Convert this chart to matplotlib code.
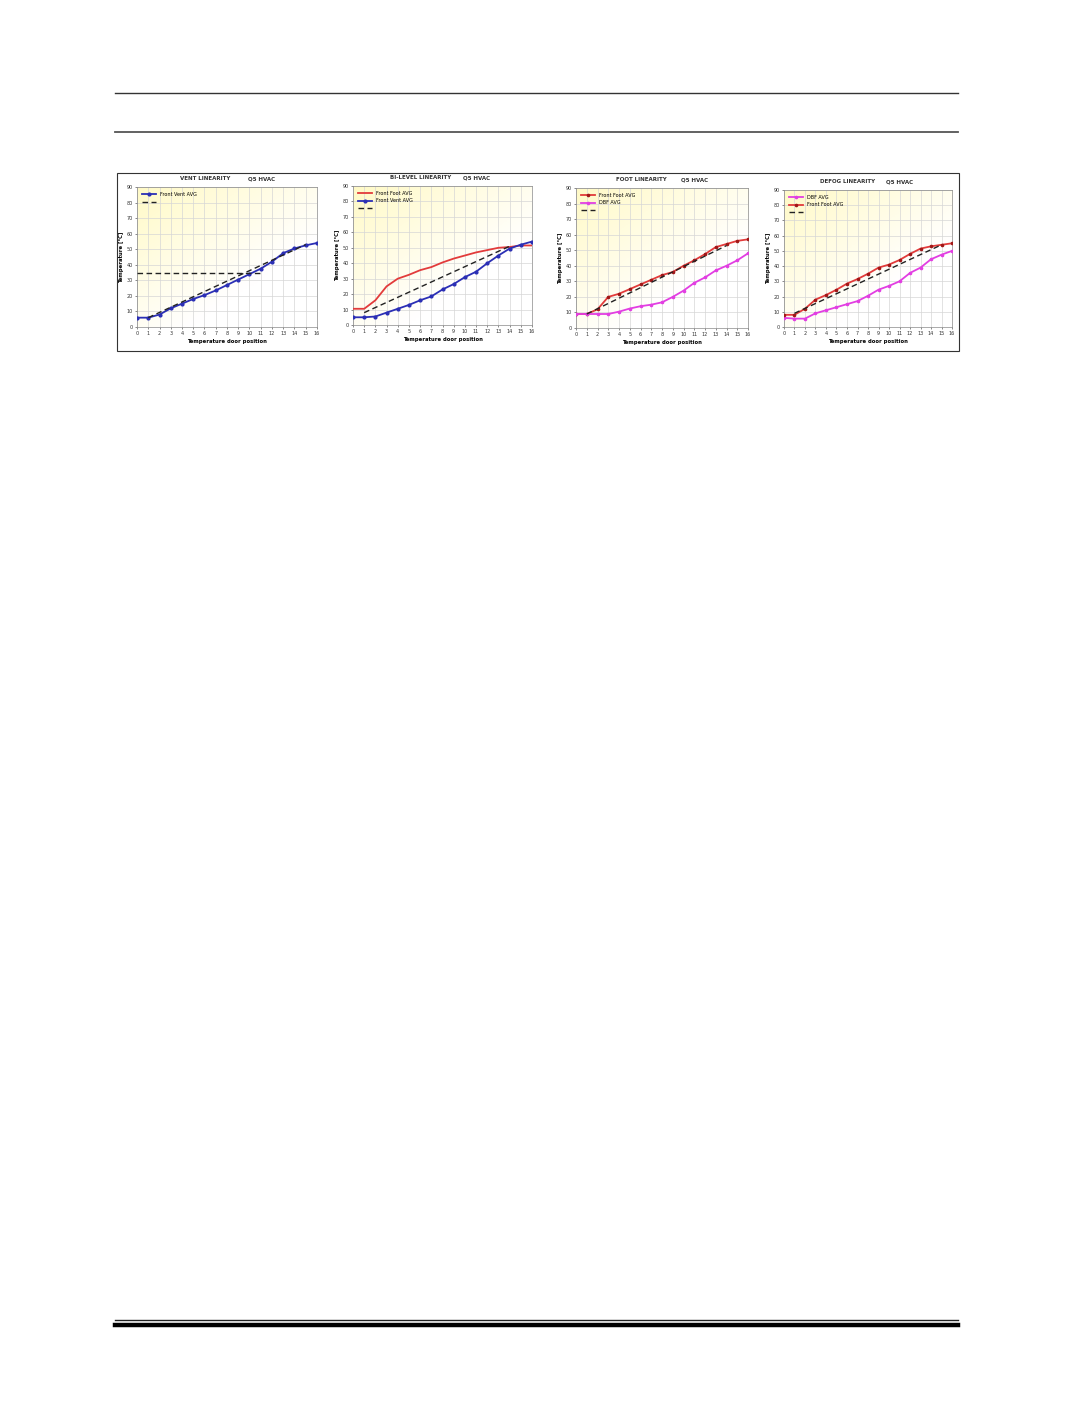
import numpy as np
import matplotlib.pyplot as plt
from matplotlib.lines import Line2D
from matplotlib.patches import Rectangle

W, H = 1075, 1422

pos = list(range(17))

vent_front = [6, 6, 8, 12, 15, 18, 20.5, 23.5, 27, 30.5, 34, 37.5, 42, 47.5, 50.5, 52.5, 54]

bilevel_foot = [10.5, 10.5, 16, 25, 30, 32.5, 35.5, 37.5, 40.5, 43, 45, 47, 48.5, 50, 50.5, 51.5, 51.5]
bilevel_vent = [5, 5, 5.5, 8, 10.5, 13, 16, 18.5, 23, 26.5, 31, 34.5, 40, 45, 49.5, 52, 54]

foot_foot = [9, 9, 12, 20, 22, 25, 28, 31, 34, 36, 40, 43.5, 47.5, 52, 54, 56, 57]
foot_dbf = [9, 9, 9, 9, 10.5, 12.5, 14, 15, 16.5, 20, 24, 29, 32.5, 37, 40, 43.5, 48]

defog_dbf = [6, 5.5, 5.5, 9, 11, 13, 15, 17, 20.5, 24.5, 27, 30, 35.5, 39, 44.5, 47.5, 50]
defog_foot = [8, 8, 12, 18, 21, 24.5, 28.5, 31.5, 35, 39, 41, 44, 48, 51.5, 53, 54, 55]

# target dashed lines (start x, end x), (start y, end y)
target_vent = ([1, 15], [6, 53])
target_bilevel = ([1, 14], [8, 51])
target_foot = ([1, 14], [9, 53])
target_defog = ([1, 15], [9, 54])
vent_ref_x = [0, 11]
vent_ref_y = [35, 35]

titles = ["VENT LINEARITY", "BI-LEVEL LINEARITY", "FOOT LINEARITY", "DEFOG LINEARITY"]

BLUE = "#2b2fb5"
RED = "#e23b3b"
MAG = "#e23ee2"

fig = plt.figure(figsize=(W / 100, H / 100), dpi=100)


def px_axes(x0, y0, x1, y1):
    return fig.add_axes([x0 / W, 1 - y1 / H, (x1 - x0) / W, (y1 - y0) / H])


# page rules
for y, lw, c in [(93, 1.0, "#333333"), (132, 1.3, "#555555")]:
    fig.add_artist(Line2D([115 / W, 958 / W], [1 - y / H, 1 - y / H], color=c, lw=lw))
fig.add_artist(Line2D([115 / W, 958 / W], [1 - 1320 / H, 1 - 1320 / H], color="#222222", lw=1.0))
fig.add_artist(Line2D([115 / W, 958 / W], [1 - 1325 / H, 1 - 1325 / H], color="black", lw=3.2))

# frame around the charts
fig.add_artist(Rectangle((117 / W, 1 - 351 / H), (959 - 117) / W, (351 - 173) / H,
                         fill=False, ec="#333333", lw=0.8, transform=fig.transFigure))

boxes = [(137, 187, 317, 327), (353, 186, 532, 325), (576, 188, 748, 328), (784, 190, 952, 327)]

# pale yellow in the top-left corner fading to white
grad = np.zeros((50, 50, 4))
gx, gy = np.meshgrid(np.linspace(0, 1, 50), np.linspace(0, 1, 50))
t = np.clip((gx * 0.7 + gy * 0.8), 0, 1)
grad[..., 0] = 1.0
grad[..., 1] = 0.98 + 0.02 * t
grad[..., 2] = 0.78 + 0.22 * t
grad[..., 3] = 1.0

axes = []
for b in boxes:
    ax = px_axes(*b)
    ax.imshow(grad, extent=[0, 16, 0, 90], origin="upper", aspect="auto", zorder=0)
    ax.set_xlim(0, 16)
    ax.set_ylim(0, 90)
    ax.set_xticks(range(17))
    ax.set_yticks(range(0, 91, 10))
    ax.grid(True, color="#d6d6d6", lw=0.5, zorder=1)
    ax.tick_params(labelsize=3.5, length=1.5, width=0.4, pad=1.5, colors="#333333")
    for s in ax.spines.values():
        s.set_linewidth(0.5)
        s.set_color("#888888")
    ax.set_xlabel("Temperature door position", fontsize=3.8, fontweight="bold", labelpad=2)
    ax.set_ylabel("Temperature [°C]", fontsize=3.8, fontweight="bold", labelpad=2)
    axes.append(ax)

for ax, title in zip(axes, titles):
    ax.text(0.38, 1.06, title, transform=ax.transAxes, ha="center", va="center",
            fontsize=4, fontweight="bold", color="#333333")
    ax.text(0.69, 1.06, "Q5 HVAC", transform=ax.transAxes, ha="center", va="center",
            fontsize=4, fontweight="bold", color="#333333")

lkw = dict(loc="upper left", frameon=False, fontsize=3.5, handlelength=3, borderaxespad=0.6,
           labelspacing=0.5)

ax = axes[0]
ax.plot(pos, vent_front, color=BLUE, lw=1.3, marker="o", ms=2, label="Front Vent AVG", zorder=3)
ax.plot(*target_vent, color="#222222", lw=1.0, ls=(0, (4, 2.5)), label=" ", zorder=4)
ax.plot(vent_ref_x, vent_ref_y, color="#222222", lw=1.0, ls=(0, (4, 2.5)), zorder=4)
ax.legend(**lkw)

ax = axes[1]
ax.plot(pos, bilevel_foot, color=RED, lw=1.3, label="Front Foot AVG", zorder=3)
ax.plot(pos, bilevel_vent, color=BLUE, lw=1.3, marker="o", ms=2, label="Front Vent AVG", zorder=3)
ax.plot(*target_bilevel, color="#222222", lw=1.0, ls=(0, (4, 2.5)), label=" ", zorder=4)
ax.legend(**lkw)

ax = axes[2]
ax.plot(pos, foot_foot, color=RED, lw=1.3, marker="o", ms=1.6, mfc="#a01818", mec="#a01818",
        label="Front Foot AVG", zorder=3)
ax.plot(pos, foot_dbf, color=MAG, lw=1.3, marker="o", ms=1.6, label="DBF AVG", zorder=3)
ax.plot(*target_foot, color="#222222", lw=1.0, ls=(0, (4, 2.5)), label=" ", zorder=4)
ax.legend(**lkw)

ax = axes[3]
ax.plot(pos, defog_dbf, color=MAG, lw=1.3, marker="o", ms=1.6, label="DBF AVG", zorder=3)
ax.plot(pos, defog_foot, color=RED, lw=1.3, marker="o", ms=1.6, mfc="#a01818", mec="#a01818",
        label="Front Foot AVG", zorder=3)
ax.plot(*target_defog, color="#222222", lw=1.0, ls=(0, (4, 2.5)), label=" ", zorder=4)
ax.legend(**lkw)

fig.savefig("out.png", dpi=100)
